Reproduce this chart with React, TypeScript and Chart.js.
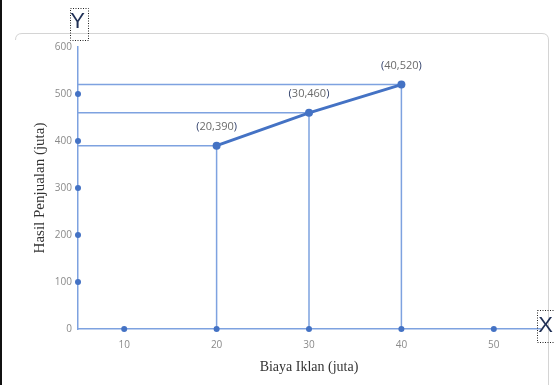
import React, { useEffect, useRef } from "react";
import { Chart, registerables } from "chart.js";

Chart.register(...registerables);

// Data
const costs = [20, 30, 40]; // Biaya Iklan (juta)
const sales = [390, 460, 520]; // Hasil Penjualan (juta)
const yDotValues = [100, 200, 300, 400, 500];
const xDotValues = [10, 20, 30, 40, 50];
const xTickValues = [10, 20, 30, 40, 50];
const yTickValues = [0, 100, 200, 300, 400, 500, 600];
const xTitle = "Biaya Iklan (juta)";
const yTitle = "Hasil Penjualan (juta)";

const X_MIN = 5;
const X_MAX = 55;
const Y_MIN = 0;
const Y_MAX = 600;

const MAIN = "#4472C4";
const GUIDE = "#7ea2e0";

const decorPlugin = {
  id: "decor",
  beforeDraw(chart: any) {
    const ctx = chart.ctx;
    ctx.save();
    ctx.strokeStyle = "#d4d4d4";
    ctx.lineWidth = 1;
    ctx.beginPath();
    ctx.moveTo(15.5, 40);
    ctx.quadraticCurveTo(15.5, 33.5, 22, 33.5);
    ctx.lineTo(542, 33.5);
    ctx.quadraticCurveTo(548.5, 33.5, 548.5, 40);
    ctx.lineTo(548.5, 385);
    ctx.stroke();
    ctx.fillStyle = "#111";
    ctx.fillRect(0, 0, 2, 385);
    ctx.restore();
  },
  afterDraw(chart: any) {
    const ctx = chart.ctx;
    const xs = chart.scales.x;
    const ys = chart.scales.y;
    ctx.save();
    ctx.font = "11px 'Open Sans'";
    ctx.textBaseline = "middle";
    costs.forEach((c, i) => {
      const px = xs.getPixelForValue(c);
      const py = ys.getPixelForValue(sales[i]) - 19;
      const inner = `${c},${sales[i]}`;
      const wP = ctx.measureText("(").width;
      const wI = ctx.measureText(inner).width;
      const total = wP * 2 + wI;
      const x0 = px - total / 2;
      ctx.textAlign = "left";
      ctx.fillStyle = "#2f3f6a";
      ctx.fillText("(", x0, py);
      ctx.fillStyle = "#6b6b6b";
      ctx.fillText(inner, x0 + wP, py);
      ctx.fillStyle = "#2f3f6a";
      ctx.fillText(")", x0 + wP + wI, py);
    });
    ctx.setLineDash([1, 1.5]);
    ctx.strokeStyle = "#222";
    ctx.lineWidth = 1;
    ctx.strokeRect(70.5, 8.5, 18, 32);
    ctx.strokeRect(537.5, 310.5, 17, 32);
    ctx.setLineDash([]);
    ctx.font = "22px 'Liberation Sans'";
    ctx.fillStyle = "#1f2f55";
    ctx.textAlign = "center";
    ctx.textBaseline = "middle";
    ctx.fillText("Y", 77.5, 22);
    ctx.fillText("X", 545.5, 326);
    ctx.restore();
  },
};

export default function App() {
  const ref = useRef<HTMLCanvasElement | null>(null);
  useEffect(() => {
    if (!ref.current) return;
    const guideSets = costs.map((c, i) => ({
      label: "guide" + i,
      data: [
        { x: X_MIN, y: sales[i] },
        { x: c, y: sales[i] },
        { x: c, y: 0 },
      ],
      showLine: true,
      borderColor: GUIDE,
      borderWidth: 1.5,
      pointRadius: 0,
      order: 3,
    }));
    const chart = new Chart(ref.current, {
      type: "scatter",
      data: {
        datasets: [
          {
            label: "main",
            data: costs.map((c, i) => ({ x: c, y: sales[i] })),
            showLine: true,
            borderColor: MAIN,
            backgroundColor: MAIN,
            borderWidth: 3,
            pointRadius: 4,
            pointBorderWidth: 0,
            clip: false,
            order: 0,
          },
          {
            label: "ydots",
            data: yDotValues.map((v) => ({ x: X_MIN, y: v })),
            showLine: false,
            backgroundColor: MAIN,
            borderWidth: 0,
            pointRadius: 3,
            clip: false,
            order: 1,
          },
          {
            label: "xdots",
            data: xDotValues.map((v) => ({ x: v, y: 0 })),
            showLine: false,
            backgroundColor: MAIN,
            borderWidth: 0,
            pointRadius: 3,
            clip: false,
            order: 1,
          },
          ...guideSets,
        ],
      },
      options: {
        responsive: false,
        animation: false,
        devicePixelRatio: 1,
        layout: { padding: { top: 47, right: 14, left: 0, bottom: 0 } },
        plugins: {
          legend: { display: false },
          tooltip: { enabled: false },
        },
        scales: {
          x: {
            type: "linear",
            min: X_MIN,
            max: X_MAX,
            grid: { display: false, drawTicks: false },
            border: { display: true, color: GUIDE, width: 1.5 },
            afterBuildTicks: (s: any) => {
              s.ticks = xTickValues.map((v) => ({ value: v }));
            },
            afterFit: (s: any) => {
              s.height = 56;
            },
            ticks: {
              padding: 10,
              color: "#8a8a8a",
              font: { family: "'Open Sans'", size: 10 },
            },
            title: {
              display: true,
              text: xTitle,
              color: "#333333",
              font: { family: "'Liberation Serif'", size: 14 },
              padding: { top: 0, bottom: 9 },
            },
          },
          y: {
            type: "linear",
            min: Y_MIN,
            max: Y_MAX,
            grid: { display: false, drawTicks: false },
            border: { display: true, color: GUIDE, width: 1.5 },
            afterBuildTicks: (s: any) => {
              s.ticks = yTickValues.map((v) => ({ value: v }));
            },
            afterFit: (s: any) => {
              s.width = 78;
            },
            ticks: {
              padding: 6,
              color: "#8a8a8a",
              font: { family: "'Open Sans'", size: 10 },
            },
            title: {
              display: true,
              text: yTitle,
              color: "#333333",
              font: { family: "'Liberation Serif'", size: 15 },
              padding: { top: 31, bottom: 0 },
            },
          },
        },
      },
      plugins: [decorPlugin],
    } as any);
    return () => chart.destroy();
  }, []);
  return (
    <div style={{ position: "absolute", left: 0, top: 0, width: 554, height: 385, background: "#fff" }}>
      <canvas ref={ref} width={554} height={385} style={{ display: "block" }} />
    </div>
  );
}
